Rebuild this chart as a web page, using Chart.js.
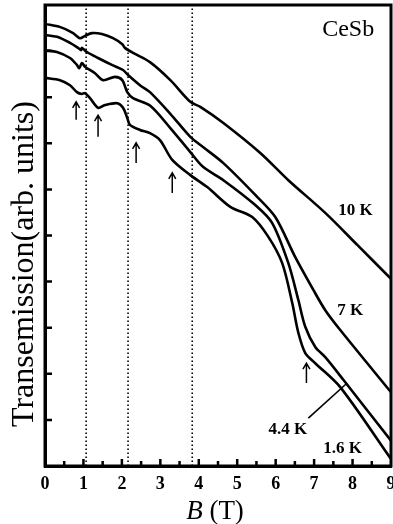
<!DOCTYPE html>
<html lang="en">

<head>
    <meta charset="UTF-8">
    <title>CeSb transmission</title>
    <script src="https://cdn.jsdelivr.net/npm/chart.js"></script>
    <style>
        body { margin: 0; background: #fff; }
    </style>
</head>

<body>
    <canvas id="grafico" width="393" height="524"></canvas>
</body>

</html>
<script>
    // campo B (T) e transmissao (unid. arb.)
    const campo10 = [0, 0.4, 0.73, 0.91, 1.04, 1.22, 1.48, 1.77, 2.01, 2.08, 2.29, 2.73, 3.26, 3.78, 4.04, 4.64, 5.6, 6.33, 7.29, 8.13, 9.0]
    const trans10 = [9.59, 9.52, 9.39, 9.28, 9.33, 9.39, 9.37, 9.28, 9.15, 9.07, 8.96, 8.76, 8.37, 7.9, 7.79, 7.44, 6.79, 6.2, 5.49, 4.79, 4.06]

    const campo7 = [0, 0.31, 0.65, 0.86, 0.94, 0.96, 1.09, 1.38, 1.74, 2.03, 2.16, 2.47, 2.73, 3.26, 3.78, 4.11, 4.64, 5.47, 5.99, 6.51, 6.98, 7.29, 7.68, 9.0]
    const trans7 = [9.35, 9.31, 9.18, 9.07, 9.02, 9.07, 8.98, 8.85, 8.7, 8.59, 8.48, 8.26, 8.11, 7.64, 7.14, 6.92, 6.57, 5.88, 5.4, 4.53, 3.82, 3.38, 2.95, 1.6]

    const campo44 = [0, 0.31, 0.65, 0.83, 0.89, 0.96, 1.04, 1.3, 1.51, 1.82, 2.01, 2.14, 2.29, 2.73, 3.26, 3.78, 4.11, 4.64, 5.47, 5.91, 6.33, 6.59, 6.77, 7.03, 7.29, 7.76, 9.0]
    const trans44 = [9.02, 8.98, 8.85, 8.7, 8.63, 8.74, 8.66, 8.52, 8.37, 8.44, 8.37, 8.11, 7.98, 7.82, 7.33, 6.81, 6.49, 6.2, 5.66, 5.27, 4.4, 3.6, 3.02, 2.58, 2.36, 1.87, 0.55]

    const campo16 = [0, 0.39, 0.65, 0.83, 0.96, 1.04, 1.17, 1.38, 1.56, 1.88, 2.03, 2.14, 2.21, 2.47, 2.73, 2.99, 3.31, 3.78, 4.22, 4.82, 5.39, 5.81, 6.17, 6.43, 6.59, 6.77, 7.03, 7.68, 9.0]
    const trans16 = [8.42, 8.37, 8.26, 8.11, 8.07, 8.09, 7.98, 7.77, 7.83, 7.87, 7.77, 7.55, 7.4, 7.29, 7.22, 7.07, 6.64, 6.31, 6.05, 5.62, 5.4, 4.97, 4.4, 3.54, 2.89, 2.45, 2.23, 1.71, 0.15]

    // linhas pontilhadas verticais
    const linhasB = [1.07, 2.16, 3.83]

    // setas: posicao B, ponta e base
    const setaB = [0.81, 1.38, 2.37, 3.31, 6.8]
    const setaTopo = [7.9, 7.61, 7.01, 6.36, 2.23]
    const setaBase = [7.51, 7.14, 6.57, 5.92, 1.8]

    // rotulos das curvas
    const rotulos = ['10 K', '7 K', '4.4 K', '1.6 K']
    const rotuloB = [7.63, 7.6, 6.82, 7.24]
    const rotuloT = [5.53, 3.38, 0.78, 0.37]
    const rotuloAlinha = ['left', 'left', 'right', 'left']

    // linha guia do rotulo 4.4 K
    const guiaB = [6.85, 7.86]
    const guiaT = [1.04, 1.8]

    const ticksX = [0, 1, 2, 3, 4, 5, 6, 7, 8, 9]
    const ticksY = [1, 2, 3, 4, 5, 6, 7, 8, 9]

    const pontos = (xs, ys) => xs.map((x, i) => ({ x: x, y: ys[i] }))

    const curva = (dados) => ({
        data: dados,
        borderColor: '#000',
        borderWidth: 2.6,
        pointRadius: 0,
        tension: 0.3,
        fill: false
    })

    const datasets = [
        curva(pontos(campo10, trans10)),
        curva(pontos(campo7, trans7)),
        curva(pontos(campo44, trans44)),
        curva(pontos(campo16, trans16))
    ]
    linhasB.forEach(b => {
        datasets.push({
            data: [{ x: b, y: 0 }, { x: b, y: 10 }],
            borderColor: '#000',
            borderWidth: 1.6,
            borderDash: [1.6, 2.4],
            pointRadius: 0
        })
    })
    datasets.push({
        data: pontos(guiaB, guiaT),
        borderColor: '#000',
        borderWidth: 1.6,
        pointRadius: 0
    })

    const extras = {
        id: 'extras',
        afterDraw(chart) {
            const ctx = chart.ctx
            const a = chart.chartArea
            const sx = chart.scales.x
            const sy = chart.scales.y
            ctx.save()
            ctx.strokeStyle = '#000'
            ctx.fillStyle = '#000'

            // moldura
            ctx.lineWidth = 3
            ctx.strokeRect(a.left, a.top, a.right - a.left, a.bottom - a.top)

            // ticks para dentro
            ctx.lineWidth = 2.5
            ctx.beginPath()
            for (let v = 0.5; v < 9; v += 0.5) {
                const px = sx.getPixelForValue(v)
                const len = Number.isInteger(v) ? 7 : 5
                ctx.moveTo(px, a.bottom)
                ctx.lineTo(px, a.bottom - len)
            }
            ticksY.forEach(v => {
                const py = sy.getPixelForValue(v)
                ctx.moveTo(a.left, py)
                ctx.lineTo(a.left + 7, py)
            })
            ctx.stroke()

            // setas
            ctx.lineWidth = 1.5
            setaB.forEach((b, i) => {
                const px = sx.getPixelForValue(b)
                const y1 = sy.getPixelForValue(setaTopo[i])
                const y2 = sy.getPixelForValue(setaBase[i])
                ctx.beginPath()
                ctx.moveTo(px, y2)
                ctx.lineTo(px, y1)
                ctx.moveTo(px - 3.5, y1 + 6)
                ctx.lineTo(px, y1)
                ctx.lineTo(px + 3.5, y1 + 6)
                ctx.stroke()
            })

            // rotulos
            ctx.textBaseline = 'middle'
            ctx.font = 'bold 17px "Liberation Serif"'
            rotulos.forEach((t, i) => {
                ctx.textAlign = rotuloAlinha[i]
                ctx.fillText(t, sx.getPixelForValue(rotuloB[i]), sy.getPixelForValue(rotuloT[i]))
            })
            ctx.textAlign = 'left'
            ctx.font = '24px "Liberation Serif"'
            ctx.fillText('CeSb', sx.getPixelForValue(7.21), sy.getPixelForValue(9.46))

            // titulo eixo x: B em italico
            ctx.textBaseline = 'alphabetic'
            ctx.font = 'italic 27px "Liberation Serif"'
            const wB = ctx.measureText('B').width
            ctx.font = '27px "Liberation Serif"'
            const wT = ctx.measureText(' (T)').width
            const x0 = 215 - (wB + wT) / 2
            ctx.font = 'italic 27px "Liberation Serif"'
            ctx.fillText('B', x0, 519)
            ctx.font = '27px "Liberation Serif"'
            ctx.fillText(' (T)', x0 + wB, 519)

            // titulo eixo y
            ctx.translate(33, 264)
            ctx.rotate(-Math.PI / 2)
            ctx.textAlign = 'center'
            ctx.font = '32px "Liberation Serif"'
            ctx.fillText('Transemission(arb. units)', 0, 0)
            ctx.restore()
        }
    }

    new Chart(
        grafico,
        {
            type: 'line',
            data: { datasets: datasets },
            options: {
                responsive: false,
                animation: false,
                devicePixelRatio: 1,
                layout: { padding: { top: 5, right: 2, left: 0, bottom: 0 } },
                plugins: {
                    legend: { display: false },
                    tooltip: { enabled: false }
                },
                scales: {
                    x: {
                        type: 'linear',
                        min: 0,
                        max: 9,
                        afterBuildTicks: (s) => { s.ticks = ticksX.map(v => ({ value: v })) },
                        ticks: {
                            color: '#000',
                            padding: 8,
                            maxRotation: 0,
                            autoSkip: false,
                            font: { family: 'Liberation Serif', weight: 'bold', size: 18 }
                        },
                        grid: { display: false, drawTicks: false },
                        border: { color: '#000', width: 3 },
                        afterFit: (s) => { s.height = 58; s.paddingLeft = 0; s.paddingRight = 0 }
                    },
                    y: {
                        type: 'linear',
                        min: 0,
                        max: 10,
                        ticks: { display: false },
                        grid: { display: false, drawTicks: false },
                        border: { color: '#000', width: 3 },
                        afterFit: (s) => { s.width = 45; s.paddingTop = 0; s.paddingBottom = 0 }
                    }
                }
            },
            plugins: [extras]
        }
    )
</script>
